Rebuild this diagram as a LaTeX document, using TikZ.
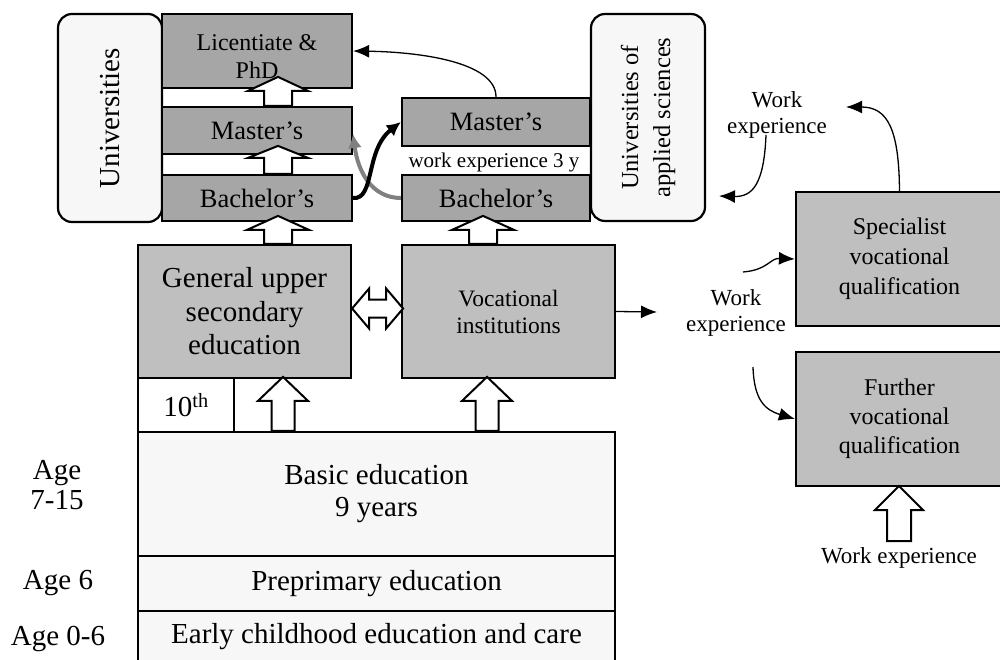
\documentclass[tikz,border=0pt]{standalone}
\usepackage{fontspec}
\setmainfont{Liberation Serif}
\usetikzlibrary{arrows.meta}
\definecolor{boxdark}{HTML}{A6A6A6}
\definecolor{boxmid}{HTML}{BFBFBF}
\definecolor{boxpale}{HTML}{F7F7F7}
\newcommand\fsz[2]{\fontsize{#1}{#2}\selectfont}
% hollow block arrow pointing up: bottom point, length, head length, half shaft, half head
\newcommand\blockup[5]{%
  \draw[hollow,shift={(#1)}] (-#4,0) -- (-#4,-#2+#3) -- (-#5,-#2+#3) -- (0,-#2)
    -- (#5,-#2+#3) -- (#4,-#2+#3) -- (#4,0) -- cycle;}
\tikzset{
  box/.style={draw,line width=2.2pt,inner sep=0pt,align=center},
  darkbox/.style={box,fill=boxdark,font=\fsz{26.5}{30}},
  midbox/.style={box,fill=boxmid},
  palebox/.style={box,fill=boxpale,font=\fsz{29}{32}},
  hollow/.style={draw,fill=white,line width=2pt,line join=miter},
  thinarr/.style={-{Latex[length=16pt,width=13pt]},line width=1.3pt},
  thickarr/.style={-{Latex[length=14pt,width=14pt]},line width=4pt},
  age/.style={align=center,font=\fsz{29}{30}},
  wtxt/.style={align=center,font=\fsz{23}{26}}
}
\begin{document}
\begin{tikzpicture}[x=1pt,y=-1pt]
  \clip (0,0) rectangle (1000,660);
  % universities
  \node[palebox,rounded corners=14pt,rotate=90,minimum width=208pt,minimum height=104pt] (uni) at (110,118) {Universities};
  \node[darkbox,minimum width=190pt,minimum height=74pt,font=\fsz{24}{28},text height=56pt] (lic) at (257,51) {Licentiate \&\\PhD};
  \node[darkbox,minimum width=190pt,minimum height=47pt] (mastU) at (257,130.5) {Master’s};
  \node[darkbox,minimum width=190pt,minimum height=46pt] (bachU) at (257,198) {Bachelor’s};
  % universities of applied sciences
  \node[darkbox,minimum width=188pt,minimum height=48pt] (mastA) at (496,122) {Master’s};
  \node[darkbox,minimum width=188pt,minimum height=46pt] (bachA) at (496,198) {Bachelor’s};
  \node[palebox,rounded corners=14pt,rotate=90,minimum width=207pt,minimum height=114pt,font=\fsz{24.5}{32}] (uas) at (648,117.5) {Universities of\\applied sciences};
  \node[font=\fsz{21}{24}] (wy) at (494,162) {work experience 3 y};
  % upper secondary
  \node[midbox,minimum width=213pt,minimum height=133pt,font=\fsz{29}{33.5}] (genU) at (244.5,311.5) {General upper\\secondary\\education};
  \node[midbox,minimum width=213pt,minimum height=133pt,font=\fsz{23.5}{27}] (vocI) at (508.5,311.5) {Vocational\\institutions};
  \node[box,fill=white,minimum width=96pt,minimum height=54pt,font=\fsz{29}{33}] (tenth) at (186,405) {10\textsuperscript{th}};
  % basic levels
  \node[palebox,minimum width=477pt,minimum height=124pt] (basic) at (376.5,494) {Basic education\\9 years};
  \node[palebox,minimum width=477pt,minimum height=55pt] (prep) at (376.5,583.5) {Preprimary education};
  \node[palebox,minimum width=477pt,minimum height=52pt] (early) at (376.5,637) {Early childhood education and care};
  \node[age] (age1) at (57,485) {Age\\7-15};
  \node[age] (age2) at (58,583) {Age 6};
  \node[age] (age3) at (58,639) {Age 0-6};
  % vocational qualifications
  \node[midbox,minimum width=207pt,minimum height=134pt,font=\fsz{24}{30}] (spec) at (899.5,259) {Specialist\\vocational\\qualification};
  \node[midbox,minimum width=207pt,minimum height=134pt,font=\fsz{24}{29}] (furth) at (899.5,419) {Further\\vocational\\qualification};
  \node[wtxt] (wtop) at (777,115) {Work\\experience};
  \node[wtxt] (wmid) at (736,313) {Work\\experience};
  \node[wtxt] (wbot) at (899,558) {Work experience};
  \coordinate (c1) at (766,135);
  \coordinate (c2) at (719,196);
  \coordinate (c3) at (846,107);
  \coordinate (c4) at (743,272);
  \coordinate (c5) at (753,367);
  \coordinate (c6) at (657,312);
  % block arrows
  \blockup{278,0 |- mastU.north}{29}{14}{14}{30}
  \blockup{278,0 |- bachU.north}{28}{12}{14}{30}
  \blockup{278,0 |- genU.north}{28}{14}{14}{31}
  \blockup{483,0 |- vocI.north}{28}{14}{14}{31}
  \blockup{283,0 |- basic.north}{54}{24}{11.5}{25}
  \blockup{487,0 |- basic.north}{54}{24}{11.5}{25}
  \blockup{899,541}{55}{24}{12}{24}
  \draw[hollow,shift={([yshift=3pt]genU.east)}] (0,0) -- (17,-20) -- (17,-9) -- (34,-9) -- (34,-20)
    -- (51,0) -- (34,20) -- (34,9) -- (17,9) -- (17,20) -- cycle;
  % curved connectors
  \draw[thickarr,gray] (bachA.west) .. controls (372,198) and (358,172) .. (353,134);
  \draw[thickarr] (bachU.east) .. controls (375,200) and (365,150) .. (mastA.west);
  \draw[thinarr] (mastA.north) .. controls (496,62) and (420,52) .. (lic.east);
  \draw[thinarr] (c1) .. controls (764,185) and (752,197) .. (c2);
  \draw[thinarr] (spec.north) .. controls (899,130) and (888,107) .. (c3);
  \draw[thinarr] (c4) .. controls (768,270) and (770,258) .. (spec.west);
  \draw[thinarr] (c5) .. controls (754,400) and (765,410) .. (furth.west);
  \path (vocI.east) edge[thinarr] (c6);
\end{tikzpicture}
\end{document}
